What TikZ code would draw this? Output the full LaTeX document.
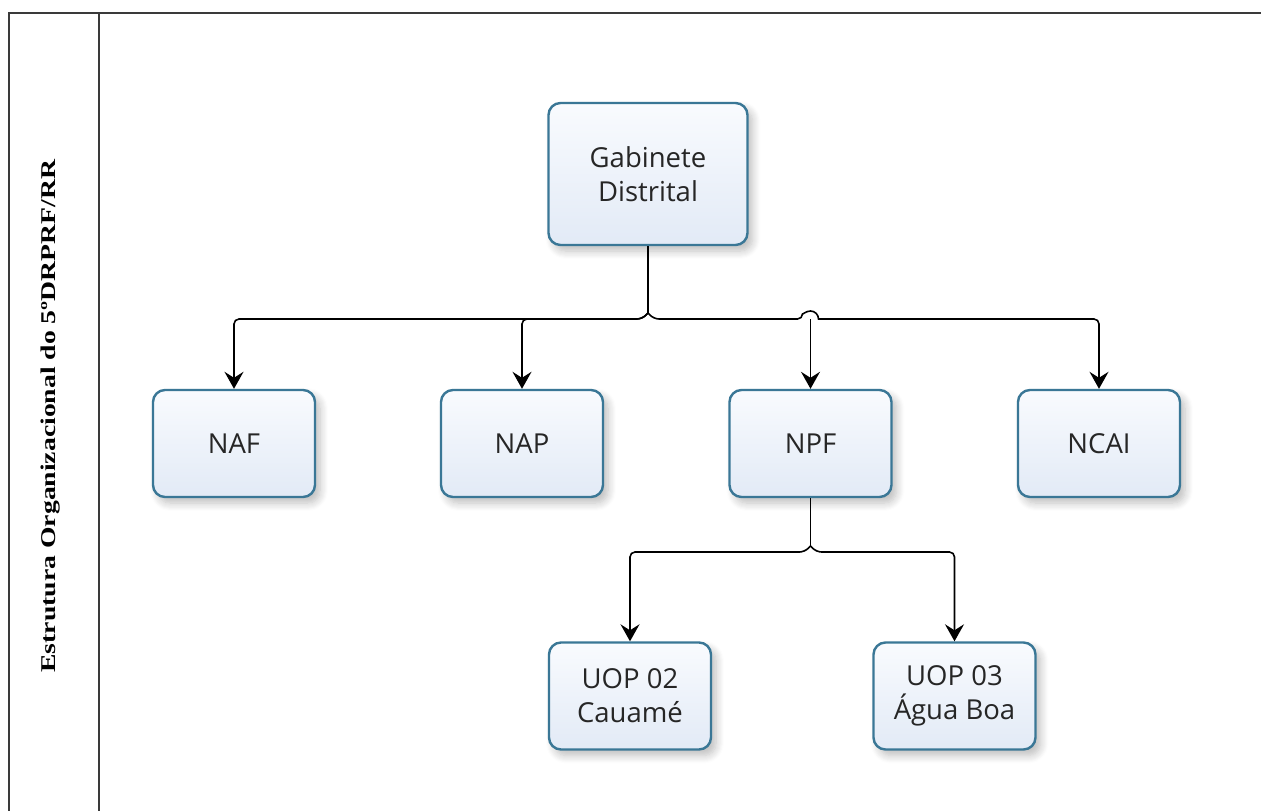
\documentclass[tikz,border=0pt]{standalone}
\usepackage{graphicx}
\usepackage{fontspec}
\setmainfont{Open Sans}
\newfontfamily\serifb{Liberation Serif}
\usetikzlibrary{arrows.meta,shadows.blur,calc}
\definecolor{bordc}{HTML}{3A7796}
\definecolor{boxtop}{HTML}{F9FBFE}
\definecolor{boxbot}{HTML}{E2EAF6}
\definecolor{txt}{HTML}{262626}
\definecolor{frm}{HTML}{3A3A3A}
\begin{document}
\begin{tikzpicture}[x=1pt,y=-1pt,
  box/.style={draw=bordc, line width=2.4pt, rounded corners=12pt,
    top color=boxtop, bottom color=boxbot,
    minimum width=162pt, minimum height=107pt, align=center,
    font=\fontsize{27.5}{34}\selectfont, text=txt, inner sep=0pt,
    blur shadow={shadow xshift=5pt, shadow yshift=-6pt, shadow blur steps=8, shadow opacity=26, shadow blur radius=8pt}},
  conn/.style={line width=1.6pt, draw=black},
  arr/.style={conn, -{Stealth[length=17pt,width=19pt,inset=6pt]}},
  frameline/.style={line width=2.4pt, draw=frm}]
\useasboundingbox (0,0) rectangle (1261,811);
% frame
\draw[frameline] (1261,13) -- (9,13) -- (9,811);
\draw[frameline] (99,13) -- (99,811);
\node[rotate=90, anchor=base, font=\serifb\bfseries\fontsize{21}{24}\selectfont, text=black, inner sep=0pt] (title) at (55,416)
  {\resizebox{513pt}{\height}{Estrutura Organizacional do 5ºDRPRF/RR}};
% boxes
\node[box, minimum width=199pt, minimum height=142pt] (g) at (648,174) {Gabinete\\Distrital};
\node[box] (naf) at (234,443.5) {NAF};
\node[box] (nap) at (522,443.5) {NAP};
\node[box] (npf) at (810.5,443.5) {NPF};
\node[box] (ncai) at (1099,443.5) {NCAI};
\node[box] (uop2) at (630,696) {UOP 02\\Cauamé};
\node[box] (uop3) at (954.5,696) {UOP 03\\Água Boa};
% upper connectors
\coordinate (bus) at (0,319);
\coordinate (gj) at (648,313);
\draw[conn] (g.south) -- (gj);
\draw[arr, rounded corners=5pt] (gj) -- ($(gj)+(-6,6)$) -- (naf.north |- bus) -- (naf.north);
\draw[arr, rounded corners=5pt] (gj) -- ($(gj)+(-6,6)$) -- (nap.north |- bus) -- (nap.north);
\draw[arr, rounded corners=5pt] (gj) -- ($(gj)+(6,6)$) -- ($(npf.north |- bus)+(-8,0)$)
  [sharp corners] arc[start angle=180, end angle=360, radius=8]
  [rounded corners=5pt] -- (ncai.north |- bus) -- (ncai.north);
\draw[arr] (npf.north |- bus) -- (npf.north);
% lower connectors
\coordinate (bus2) at (0,552);
\coordinate (nj) at (810.5,546);
\draw[conn] (npf.south) -- (nj);
\draw[arr, rounded corners=5pt] (nj) -- ($(nj)+(-6,6)$) -- (uop2.north |- bus2) -- (uop2.north);
\draw[arr, rounded corners=5pt] (nj) -- ($(nj)+(6,6)$) -- (uop3.north |- bus2) -- (uop3.north);
\end{tikzpicture}
\end{document}
